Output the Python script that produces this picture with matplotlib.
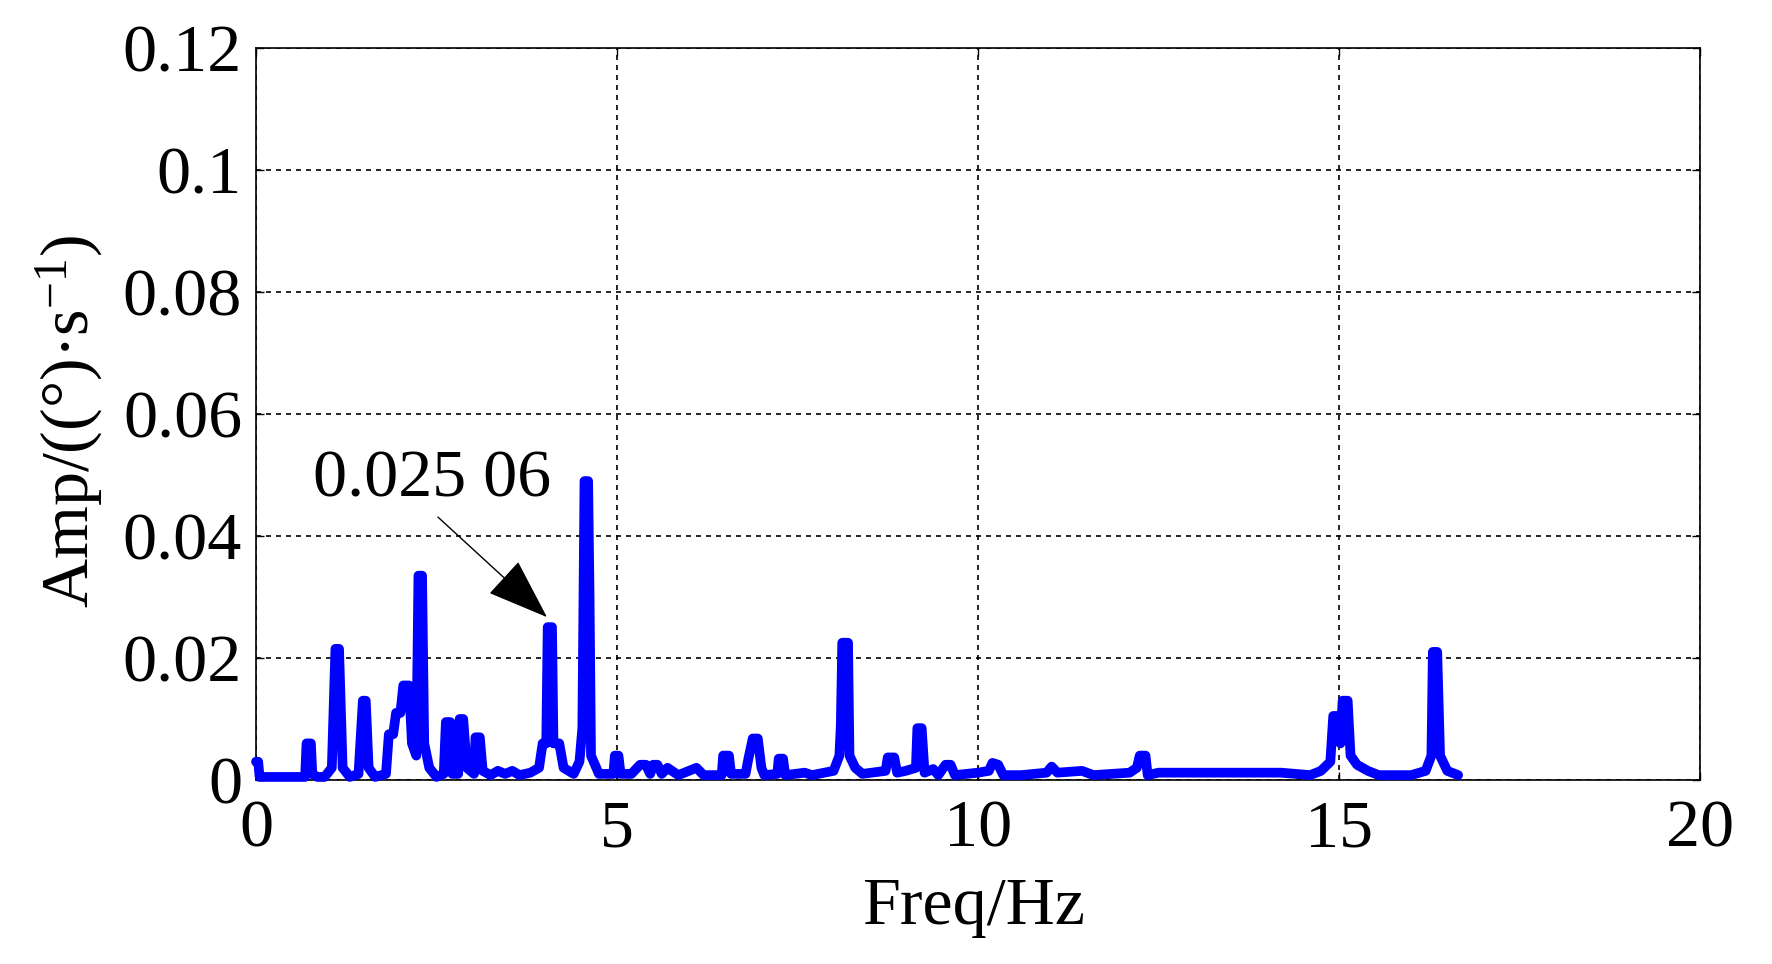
import numpy as np
import matplotlib
matplotlib.use("Agg")
import matplotlib.pyplot as plt

plt.rcParams['font.family'] = ['Liberation Serif', 'DejaVu Serif']
plt.rcParams['mathtext.fontset'] = 'custom'
plt.rcParams['mathtext.rm'] = 'Liberation Serif'
plt.rcParams['mathtext.it'] = 'Liberation Serif'

# spectrum (Hz, amplitude)
freq = [0.00, 0.03, 0.05, 0.68, 0.70, 0.76, 0.78, 0.85, 0.95, 1.05,
        1.10, 1.15, 1.20, 1.30, 1.42, 1.48, 1.52, 1.56, 1.65, 1.80,
        1.84, 1.90, 1.94, 2.00, 2.04, 2.12, 2.16, 2.22, 2.25, 2.30,
        2.33, 2.40, 2.50, 2.60, 2.63, 2.69, 2.72, 2.80, 2.82, 2.87,
        2.92, 3.02, 3.04, 3.10, 3.14, 3.25, 3.35, 3.45, 3.55, 3.65,
        3.80, 3.92, 3.97, 4.02, 4.04, 4.10, 4.12, 4.20, 4.26, 4.40,
        4.48, 4.52, 4.55, 4.60, 4.62, 4.64, 4.75, 4.95, 4.97, 5.02,
        5.05, 5.20, 5.32, 5.40, 5.46, 5.50, 5.56, 5.62, 5.70, 5.76,
        5.85, 6.10, 6.20, 6.45, 6.47, 6.55, 6.58, 6.78, 6.82, 6.88,
        6.95, 7.00, 7.04, 7.22, 7.24, 7.30, 7.33, 7.60, 7.70, 8.00,
        8.08, 8.10, 8.12, 8.20, 8.22, 8.30, 8.40, 8.72, 8.75, 8.84,
        8.88, 9.00, 9.14, 9.16, 9.22, 9.26, 9.38, 9.45, 9.55, 9.62,
        9.68, 10.00, 10.15, 10.20, 10.28, 10.35, 10.60, 10.95, 11.02, 11.10,
        11.44, 11.60, 12.10, 12.20, 12.24, 12.32, 12.35, 12.50, 13.00, 13.50,
        14.20, 14.60, 14.75, 14.88, 14.92, 14.98, 15.02, 15.05, 15.12, 15.16,
        15.25, 15.40, 15.55, 16.00, 16.20, 16.28, 16.30, 16.36, 16.40, 16.50,
        16.65]
amp = [0.0030, 0.0030, 0.0005, 0.0005, 0.0060, 0.0060, 0.0010, 0.0005, 0.0005, 0.0020,
       0.0215, 0.0215, 0.0020, 0.0005, 0.0010, 0.0130, 0.0130, 0.0020, 0.0005, 0.0010,
       0.0075, 0.0075, 0.0110, 0.0110, 0.0155, 0.0155, 0.0060, 0.0040, 0.0335, 0.0335,
       0.0060, 0.0020, 0.0005, 0.0010, 0.0095, 0.0095, 0.0010, 0.0010, 0.0100, 0.0100,
       0.0020, 0.0010, 0.0070, 0.0070, 0.0015, 0.0008, 0.0015, 0.0010, 0.0015, 0.0008,
       0.0012, 0.0020, 0.0060, 0.0060, 0.02506, 0.02506, 0.0060, 0.0060, 0.0020, 0.0010,
       0.0030, 0.0085, 0.0490, 0.0490, 0.0300, 0.0040, 0.0010, 0.0010, 0.0040, 0.0040,
       0.0010, 0.0010, 0.0025, 0.0025, 0.0010, 0.0025, 0.0025, 0.0010, 0.0020, 0.0015,
       0.0008, 0.0020, 0.0008, 0.0008, 0.0040, 0.0040, 0.0010, 0.0010, 0.0035, 0.0068,
       0.0068, 0.0020, 0.0008, 0.0010, 0.0035, 0.0035, 0.0008, 0.0012, 0.0008, 0.0015,
       0.0040, 0.0090, 0.0225, 0.0225, 0.0040, 0.0020, 0.0010, 0.0015, 0.0037, 0.0037,
       0.0012, 0.0015, 0.0020, 0.0085, 0.0085, 0.0012, 0.0018, 0.0008, 0.0025, 0.0025,
       0.0008, 0.0012, 0.0015, 0.0028, 0.0025, 0.0008, 0.0008, 0.0012, 0.0022, 0.0012,
       0.0015, 0.0008, 0.0012, 0.0020, 0.0040, 0.0040, 0.0008, 0.0012, 0.0012, 0.0012,
       0.0012, 0.0008, 0.0015, 0.0030, 0.0105, 0.0105, 0.0060, 0.0130, 0.0130, 0.0040,
       0.0025, 0.0015, 0.0008, 0.0008, 0.0015, 0.0040, 0.0210, 0.0210, 0.0040, 0.0015,
       0.0008]

xticks = [0, 5, 10, 15, 20]
yticks = [0, 0.02, 0.04, 0.06, 0.08, 0.1, 0.12]
ytick_labels = ['0', '0.02', '0.04', '0.06', '0.08', '0.1', '0.12']

fig = plt.figure(figsize=(17.72, 9.64), dpi=100)
ax = fig.add_axes([256/1772, 1-780/964, 1444/1772, 732/964])

ax.plot(freq, amp, color='#0000ff', lw=7, solid_joinstyle='round',
        solid_capstyle='round', clip_on=False, zorder=3)

ax.set_xlim(0, 20)
ax.set_ylim(0, 0.12)
ax.set_xticks(xticks)
ax.set_xticklabels([str(t) for t in xticks])
ax.set_yticks(yticks)
ax.set_yticklabels(ytick_labels)
ax.tick_params(direction='in', length=6, width=1, top=True, right=True,
               labelsize=49, pad=10)
ax.tick_params(axis='x', pad=14)
ax.grid(True, color='black', linestyle=(0, (3, 3)), linewidth=1.2)
for s in ax.spines.values():
    s.set_linewidth(1.2)

# arrow to the 4 Hz peak, label placed above its tail
ax.annotate('', xy=(4.03, 0.0267), xytext=(2.52, 0.0431),
            arrowprops=dict(arrowstyle='-|>,head_length=2.0,head_width=0.72',
                            mutation_scale=20, color='black', lw=1,
                            shrinkA=0, shrinkB=0), zorder=4)
ax.text(2.44, 0.0492, '0.025 06', fontsize=49, ha='center', va='center')

fig.text(974/1772, 1-907/964, 'Freq/Hz', fontsize=49, ha='center', va='center')
fig.text(70/1772, 1-421/964, 'Amp/((°)·s$^{-1}$)', fontsize=49,
         ha='center', va='center', rotation=90)

fig.savefig('out.png', dpi=100)
